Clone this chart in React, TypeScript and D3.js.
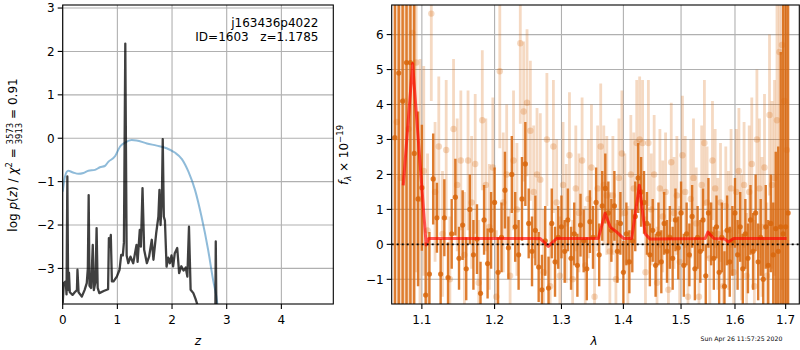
import * as d3 from "d3";

// ---- left panel: p(z) ----
const zTicks = [0, 1, 2, 3, 4];
const logpTicks = [-3, -2, -1, 0, 1, 2, 3];

// [z, log p(z)]
const logPz: [number, number][] = [
  [0, -3.8], [0.02, -3.34], [0.055, -3.3], [0.07, -3.6], [0.085, -0.88], [0.1, -3.5],
  [0.115, -3.1], [0.13, -3.55], [0.18, -3.61], [0.22, -3.55], [0.26, -3.5], [0.27, -3.03],
  [0.29, -3.55], [0.35, -3.65], [0.4, -3.5], [0.44, -3.34], [0.46, -3.0], [0.475, -1.31],
  [0.49, -3.4], [0.52, -3.45], [0.55, -2.46], [0.57, -3.5], [0.6, -3.3], [0.62, -2.07],
  [0.64, -3.45], [0.67, -3.57], [0.75, -3.52], [0.83, -3.48], [0.845, -2.3], [0.86, -2.5],
  [0.88, -2.23], [0.9, -3.3], [0.93, -3.3], [0.99, -3.19], [1.04, -3.03], [1.07, -2.69],
  [1.1, -2.7], [1.12, -2.4], [1.145, 2.18], [1.17, -2.7], [1.2, -2.88], [1.24, -2.73],
  [1.29, -2.88], [1.35, -2.46], [1.37, -2.85], [1.41, -2.11], [1.43, -2.5], [1.46, -1.15],
  [1.49, -2.57], [1.54, -2.88], [1.58, -2.73], [1.63, -2.34], [1.66, -2.8], [1.71, -2.19],
  [1.75, -1.81], [1.77, -1.19], [1.79, -2.0], [1.815, -1.31], [1.83, -0.02], [1.85, -1.81],
  [1.87, -1.9], [1.9, -2.96], [1.93, -2.75], [1.96, -2.88], [1.99, -2.7], [2.02, -2.95],
  [2.05, -2.65], [2.095, -2.53], [2.13, -3.11], [2.17, -2.95], [2.21, -3.05], [2.25, -2.98],
  [2.28, -3.19], [2.31, -2.04], [2.34, -3.49], [2.39, -3.57], [2.43, -3.7], [2.46, -3.82],
  [2.5, -4.5], [2.79, -4.5], [2.8, -2.38], [2.815, -4.5],
];

// [z, scaled chi2]
const chi2Curve: [number, number][] = [
  [0, -1.23], [0.042, -0.88], [0.1, -0.75], [0.19, -0.79], [0.29, -0.82], [0.38, -0.8],
  [0.47, -0.75], [0.59, -0.73], [0.68, -0.67], [0.77, -0.64], [0.83, -0.55], [0.96, -0.41],
  [1.05, -0.19], [1.14, -0.1], [1.26, -0.04], [1.35, -0.05], [1.54, -0.12], [1.72, -0.17],
  [1.9, -0.23], [2.05, -0.33], [2.18, -0.48], [2.3, -0.77], [2.42, -1.19], [2.54, -1.81],
  [2.66, -2.57], [2.75, -3.26], [2.83, -3.82], [2.88, -4.5],
];

// ---- right panel: spectrum ----
const lamTicks = [1.1, 1.2, 1.3, 1.4, 1.5, 1.6, 1.7];
const fluxTicks = [-1, 0, 1, 2, 3, 4, 5, 6];

// [lambda, flux, err] faint spectrum
const specFaint: [number, number, number][] = [
  [1.0675, 3.5, 9], [1.0725, 1.9, 9], [1.0775, 4.1, 9], [1.0825, 3.3, 9], [1.0875, 6.05, 9],
  [1.0925, 5.2, 6], [1.0975, 1.3, 4], [1.1025, 2.1, 3], [1.1075, 0.4, 2.2], [1.1125, 6.6, 2.5],
  [1.1175, 1.5, 2.0], [1.1225, 2.8, 2.0], [1.1275, 0.3, 1.8], [1.1325, 2.7, 2.0], [1.1375, -1.0, 1.8],
  [1.1425, 3.3, 2.0], [1.1475, 1.7, 1.9], [1.1525, 2.4, 2.0], [1.1575, -0.3, 1.8], [1.1625, 2.4, 2.0],
  [1.1675, 1.2, 1.9], [1.1725, 2.3, 2.0], [1.1775, -1.1, 1.8], [1.1825, 3.55, 2.0], [1.1875, 1.7, 1.9],
  [1.1925, 0.5, 1.8], [1.1975, 2.2, 2.0], [1.2025, -1.5, 1.9], [1.2075, 4.95, 2.2], [1.2125, 1.2, 2.0],
  [1.2175, 2.0, 2.0], [1.2225, -0.9, 1.9], [1.2275, 2.4, 2.0], [1.2325, 1.0, 1.9], [1.2375, 5.75, 2.3],
  [1.2425, 3.8, 2.0], [1.2475, 4.05, 2.1], [1.2525, 3.25, 2.0], [1.2575, 1.5, 1.9], [1.2625, 2.0, 1.9],
  [1.2675, 1.85, 1.9], [1.2725, -0.8, 1.8], [1.2775, 3.0, 1.9], [1.2825, -1.2, 1.8], [1.2875, 2.8, 1.9],
  [1.2925, 1.2, 1.8], [1.2975, -0.9, 1.7], [1.3025, 1.7, 1.8], [1.3075, 0.6, 1.7], [1.3125, 2.55, 1.8],
  [1.3175, -1.0, 1.7], [1.3225, 1.6, 1.8], [1.3275, 0.9, 1.7], [1.3325, 2.4, 1.8], [1.3375, -0.6, 1.7],
  [1.3425, 1.3, 1.7], [1.3475, 2.2, 1.8], [1.3525, -1.5, 1.7], [1.3575, 1.6, 1.8], [1.3625, 2.8, 1.8],
  [1.3675, 1.7, 1.7], [1.3725, 1.4, 1.7], [1.3775, -0.2, 1.7], [1.3825, 1.4, 1.7], [1.3875, -1.0, 1.6],
  [1.3925, 1.9, 1.7], [1.3975, 2.6, 1.8], [1.4025, 0.9, 1.7], [1.4075, -0.5, 1.6], [1.4125, 2.0, 1.7],
  [1.4175, 1.6, 1.6], [1.4225, 2.9, 1.8], [1.4275, 3.0, 1.8], [1.4325, 2.9, 1.8], [1.4375, -0.8, 1.6],
  [1.4425, 2.9, 1.8], [1.4475, 1.0, 1.6], [1.4525, 2.0, 1.7], [1.4575, -1.1, 1.6], [1.4625, 1.6, 1.7],
  [1.4675, 0.8, 1.6], [1.4725, 1.5, 1.7], [1.4775, -1.3, 1.6], [1.4825, 2.35, 1.7], [1.4875, 0.9, 1.6],
  [1.4925, 1.4, 1.7], [1.4975, -0.5, 1.6], [1.5025, 2.55, 1.7], [1.5075, 1.5, 1.6], [1.5125, -1.5, 1.6],
  [1.5175, 1.3, 1.7], [1.5225, 1.9, 1.7], [1.5275, 0.6, 1.6], [1.5325, -1.5, 1.6], [1.5375, 1.7, 1.7],
  [1.5425, 2.9, 1.8], [1.5475, 1.2, 1.6], [1.5525, -0.4, 1.6], [1.5575, 2.4, 1.7], [1.5625, 1.6, 1.7],
  [1.5675, 0.3, 1.6], [1.5725, 1.2, 1.7], [1.5775, -1.2, 1.6], [1.5825, 1.1, 1.7], [1.5875, 0.4, 1.7],
  [1.5925, 1.6, 1.7], [1.5975, -0.8, 1.7], [1.6025, 1.5, 1.8], [1.6075, 2.1, 1.8], [1.6125, 0.2, 1.8],
  [1.6175, 1.7, 1.8], [1.6225, -0.9, 1.8], [1.6275, 1.5, 1.9], [1.6325, 2.3, 1.9], [1.6375, -1.2, 1.9],
  [1.6425, 3.0, 2.0], [1.6475, 1.6, 2.0], [1.6525, 0.5, 2.0], [1.6575, 2.2, 2.1], [1.6625, -0.9, 2.1],
  [1.6675, 3.7, 2.3], [1.6725, 1.7, 2.4], [1.6775, 1.9, 2.8], [1.6825, 3.55, 3.5], [1.6875, 5.5, 5],
  [1.6925, 5.7, 7], [1.6975, 4.1, 8], [1.7025, 2.7, 9],
];

// [lambda, flux, err] strong spectrum
const specStrong: [number, number, number][] = [
  [1.065, 3.05, 9], [1.07, 4.9, 9], [1.075, 4.1, 9], [1.08, 5.2, 9], [1.085, 5.2, 9],
  [1.09, 2.6, 8], [1.095, 1.3, 2.5], [1.1, 1.62, 1.8], [1.105, -1.45, 1.5], [1.11, -0.85, 1.2],
  [1.115, 1.87, 1.3], [1.12, 0.76, 1.0], [1.125, -0.85, 1.0], [1.13, 0.76, 1.1], [1.135, -0.95, 1.0],
  [1.14, 0.3, 1.0], [1.145, 1.35, 1.1], [1.15, -0.4, 0.9], [1.155, 0.55, 1.0], [1.16, -0.7, 0.9],
  [1.165, 1.0, 1.0], [1.17, -0.3, 1.0], [1.175, 0.15, 1.0], [1.18, -1.4, 0.9], [1.185, 0.7, 1.0],
  [1.19, -0.55, 1.0], [1.195, 0.4, 1.1], [1.2, 1.2, 1.0], [1.205, -0.8, 1.0], [1.21, 0.2, 1.0],
  [1.215, 1.55, 1.1], [1.22, -0.1, 0.9], [1.225, 2.0, 1.1], [1.23, 0.5, 1.0], [1.235, -0.3, 1.0],
  [1.24, 1.3, 1.2], [1.245, 2.3, 1.2], [1.25, 0.6, 1.0], [1.255, -0.2, 1.0], [1.26, 0.4, 1.0],
  [1.265, -0.65, 1.0], [1.27, -1.3, 1.0], [1.275, 0.1, 1.0], [1.28, -1.25, 0.9], [1.285, 0.6, 1.0],
  [1.29, -0.5, 1.0], [1.295, 0.2, 0.9], [1.3, 0.5, 0.9], [1.305, -0.2, 0.9], [1.31, 0.7, 0.9],
  [1.315, -0.4, 0.9], [1.32, 0.3, 0.9], [1.325, -0.6, 0.9], [1.33, 0.55, 0.9], [1.335, 0.1, 0.9],
  [1.34, -0.7, 0.9], [1.345, 0.65, 0.9], [1.35, 0.2, 0.9], [1.355, 1.2, 1.0], [1.36, -0.3, 0.9],
  [1.365, 1.1, 1.0], [1.37, 1.6, 1.0], [1.375, 0.9, 0.9], [1.38, 0.4, 0.9], [1.385, 1.1, 1.0],
  [1.39, -0.2, 0.9], [1.395, 0.6, 0.9], [1.4, -0.8, 0.9], [1.405, 0.3, 0.9], [1.41, -0.5, 0.9],
  [1.415, 0.1, 0.9], [1.42, 0.8, 1.0], [1.425, 1.9, 1.0], [1.43, 1.5, 1.0], [1.435, 1.2, 0.9],
  [1.44, 0.6, 0.9], [1.445, -0.3, 0.9], [1.45, 0.4, 0.9], [1.455, -0.6, 0.9], [1.46, 0.3, 0.9],
  [1.465, -0.5, 0.9], [1.47, 0.6, 0.9], [1.475, -0.2, 0.9], [1.48, 0.2, 0.9], [1.485, -0.4, 0.9],
  [1.49, 0.7, 0.9], [1.495, -0.1, 0.9], [1.5, 0.9, 0.9], [1.505, -0.6, 0.9], [1.51, 0.3, 0.9],
  [1.515, -0.3, 0.9], [1.52, 0.8, 0.9], [1.525, -0.7, 0.9], [1.53, 0.2, 0.9], [1.535, -0.2, 0.9],
  [1.54, 0.7, 0.9], [1.545, -0.9, 0.9], [1.55, 0.9, 1.0], [1.555, 0.3, 0.9], [1.56, -0.4, 0.9],
  [1.565, 0.5, 0.9], [1.57, -0.8, 0.9], [1.575, 0.2, 1.0], [1.58, -1.2, 1.0], [1.585, 0.4, 1.0],
  [1.59, -0.5, 1.0], [1.595, 0.1, 1.0], [1.6, 0.9, 1.0], [1.605, -0.3, 1.0], [1.61, 0.5, 1.0],
  [1.615, -0.7, 1.0], [1.62, 0.3, 1.0], [1.625, -0.4, 1.0], [1.63, 0.7, 1.0], [1.635, -0.2, 1.1],
  [1.64, 0.9, 1.1], [1.645, -0.5, 1.1], [1.65, 0.2, 1.1], [1.655, -1.0, 1.2], [1.66, 0.5, 1.2],
  [1.665, -0.6, 1.3], [1.67, 0.6, 1.4], [1.675, -0.3, 1.5], [1.68, 0.45, 2.2], [1.685, -0.2, 3.0],
  [1.69, 0.5, 5], [1.695, 0.3, 8], [1.7, 0.5, 9], [1.705, 0.9, 9],
];

// [lambda, flux] model
const modelLine: [number, number][] = [
  [1.0758, 1.69], [1.0879, 5.17], [1.1057, -0.02], [1.109, 0.17], [1.267, 0.17], [1.2797, -0.06],
  [1.2927, 0.17], [1.3587, 0.17], [1.3696, 0.89], [1.378, 0.5], [1.389, 0.35], [1.4, 0.17],
  [1.414, 0.17], [1.427, 1.69], [1.437, 0.3], [1.4455, 0.15], [1.544, 0.17], [1.549, 0.35],
  [1.56, 0.17], [1.581, 0.15], [1.5871, 0.07], [1.597, 0.17], [1.702, 0.17],
];

const FONT = "DejaVu Sans, sans-serif";
const GRID = "#b0b0b0";
const ORANGE = "#d8660c";
const minus = (v: number) => (v < 0 ? "\u2212" + Math.abs(v) : String(v));

const L = { x0: 62.7, x1: 333.3, y0: 5, y1: 304 };
const R = { x0: 391.7, x1: 799.3, y0: 5, y1: 304 };

export default function App() {
  const xz = d3.scaleLinear().domain([0, 4.95]).range([L.x0, L.x1]);
  const yp = d3.scaleLinear().domain([-3.82, 3.07]).range([L.y1, L.y0]);
  const xl = d3.scaleLog().domain([1.061, 1.728]).range([R.x0, R.x1]);
  const yf = d3.scaleLinear().domain([-1.706, 6.846]).range([R.y1, R.y0]);

  const pzPath = d3.line<[number, number]>().x((d) => xz(d[0])).y((d) => yp(d[1]))(logPz) || "";
  const chiPath = d3.line<[number, number]>().x((d) => xz(d[0])).y((d) => yp(d[1])).curve(d3.curveMonotoneX)(chi2Curve) || "";
  const modelPath = d3.line<[number, number]>().x((d) => xl(d[0])).y((d) => yf(d[1]))(modelLine) || "";

  const errBars = (spec: [number, number, number][], op: number, r: number, w: number, key: string) => (
    <g key={key}>
      {spec.map((d, i) => (
        <line key={"e" + i} x1={xl(d[0])} x2={xl(d[0])} y1={yf(d[1] - d[2])} y2={yf(d[1] + d[2])}
          stroke={ORANGE} strokeOpacity={op} strokeWidth={w} />
      ))}
      {spec.map((d, i) => (
        <circle key={"c" + i} cx={xl(d[0])} cy={yf(d[1])} r={r} fill={ORANGE} fillOpacity={op} />
      ))}
    </g>
  );

  return (
    <svg width={800} height={350} style={{ position: "absolute", left: 0, top: 0, background: "white" }}
      fontFamily={FONT}>
      <defs>
        <clipPath id="clipL"><rect x={L.x0} y={L.y0} width={L.x1 - L.x0} height={L.y1 - L.y0} /></clipPath>
        <clipPath id="clipR"><rect x={R.x0} y={R.y0} width={R.x1 - R.x0} height={R.y1 - R.y0} /></clipPath>
      </defs>

      {/* left panel */}
      <g>
        {zTicks.map((t) => (
          <line key={"gz" + t} x1={xz(t)} x2={xz(t)} y1={L.y0} y2={L.y1} stroke={GRID} strokeWidth={1.1} />
        ))}
        {logpTicks.map((t) => (
          <line key={"gp" + t} x1={L.x0} x2={L.x1} y1={yp(t)} y2={yp(t)} stroke={GRID} strokeWidth={1.1} />
        ))}
        <g clipPath="url(#clipL)">
          <path d={chiPath} fill="none" stroke="#1f77b4" strokeOpacity={0.5} strokeWidth={2} />
          <path d={pzPath} fill="none" stroke="black" strokeOpacity={0.75} strokeWidth={2.3} strokeLinejoin="round" />
        </g>
        <rect x={L.x0} y={L.y0} width={L.x1 - L.x0} height={L.y1 - L.y0} fill="none" stroke="black" strokeWidth={1.1} />
        {zTicks.map((t) => (
          <g key={"tz" + t}>
            <line x1={xz(t)} x2={xz(t)} y1={L.y1} y2={L.y1 + 5} stroke="black" strokeWidth={1.1} />
            <text x={xz(t)} y={L.y1 + 20} textAnchor="middle" fontSize={12}>{minus(t)}</text>
          </g>
        ))}
        {logpTicks.map((t) => (
          <g key={"tp" + t}>
            <line x1={L.x0 - 5} x2={L.x0} y1={yp(t)} y2={yp(t)} stroke="black" strokeWidth={1.1} />
            <text x={L.x0 - 8} y={yp(t) + 4.3} textAnchor="end" fontSize={12}>{minus(t)}</text>
          </g>
        ))}
        <text x={318.5} y={26.5} textAnchor="end" fontSize={12}>j163436p4022</text>
        <text x={318.5} y={40.8} textAnchor="end" fontSize={12} style={{ whiteSpace: "pre" }}>{"ID=1603   z=1.1785"}</text>
        <text x={(L.x0 + L.x1) / 2} y={345} textAnchor="middle" fontSize={12} fontStyle="italic">z</text>
        <text transform="translate(17,155) rotate(-90)" textAnchor="middle" fontSize={12} style={{ whiteSpace: "pre" }}>
          <tspan>log </tspan>
          <tspan fontStyle="italic">p</tspan>
          <tspan>(</tspan>
          <tspan fontStyle="italic">z</tspan>
          <tspan>) / </tspan>
          <tspan fontStyle="italic">χ</tspan>
          <tspan fontSize={8.5} dy={-5}>2</tspan>
          <tspan dy={5}> = </tspan>
          <tspan fontSize={8.5} dy={-4.5}>3573</tspan>
          <tspan fontSize={8.5} dx={-21.6} dy={9}>3913</tspan>
          <tspan dy={-4.5}> = 0.91</tspan>
        </text>
      </g>

      {/* right panel */}
      <g>
        {lamTicks.map((t) => (
          <line key={"gl" + t} x1={xl(t)} x2={xl(t)} y1={R.y0} y2={R.y1} stroke={GRID} strokeWidth={1.1} />
        ))}
        {fluxTicks.map((t) => (
          <line key={"gf" + t} x1={R.x0} x2={R.x1} y1={yf(t)} y2={yf(t)} stroke={GRID} strokeWidth={1.1} />
        ))}
        <g clipPath="url(#clipR)">
          {errBars(specFaint, 0.25, 3.2, 2.8, "faint")}
          {errBars(specStrong, 0.85, 2.6, 2.4, "strong")}
          <path d={modelPath} fill="none" stroke="red" strokeOpacity={0.65} strokeWidth={3} strokeLinejoin="round" />
          <line x1={R.x0} x2={R.x1} y1={yf(0)} y2={yf(0)} stroke="black" strokeWidth={1.8} strokeDasharray="2 3" />
        </g>
        <rect x={R.x0} y={R.y0} width={R.x1 - R.x0} height={R.y1 - R.y0} fill="none" stroke="black" strokeWidth={1.1} />
        {lamTicks.map((t) => (
          <g key={"tl" + t}>
            <line x1={xl(t)} x2={xl(t)} y1={R.y1} y2={R.y1 + 5} stroke="black" strokeWidth={1.1} />
            <text x={xl(t)} y={R.y1 + 20} textAnchor="middle" fontSize={12}>{d3.format(".1f")(t)}</text>
          </g>
        ))}
        {fluxTicks.map((t) => (
          <g key={"tf" + t}>
            <line x1={R.x0 - 5} x2={R.x0} y1={yf(t)} y2={yf(t)} stroke="black" strokeWidth={1.1} />
            <text x={R.x0 - 8} y={yf(t) + 4.3} textAnchor="end" fontSize={12}>{minus(t)}</text>
          </g>
        ))}
        <text x={594} y={345} textAnchor="middle" fontSize={12} fontStyle="italic">λ</text>
        <text transform="translate(348,155) rotate(-90)" textAnchor="middle" fontSize={12}>
          <tspan fontStyle="italic">f</tspan>
          <tspan fontSize={8.5} fontStyle="italic" dy={3}>λ</tspan>
          <tspan dy={-3}> × 10</tspan>
          <tspan fontSize={8.5} dy={-5}>−19</tspan>
        </text>
        <text x={741.5} y={341} textAnchor="middle" fontSize={6.2}>Sun Apr 26 11:57:25 2020</text>
      </g>
    </svg>
  );
}
